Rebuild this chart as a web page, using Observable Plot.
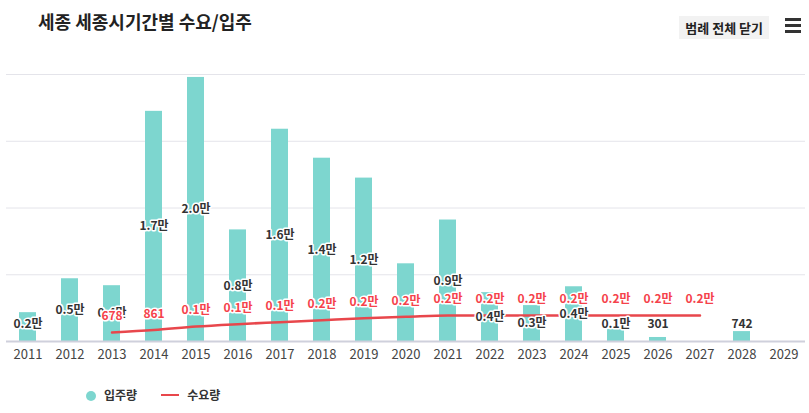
<!DOCTYPE html><html><head><meta charset="utf-8">
<script src="https://cdn.jsdelivr.net/npm/d3@7"></script>
<script src="https://cdn.jsdelivr.net/npm/@observablehq/plot@0.6"></script>
<style>
body{margin:0;width:809px;height:413px;position:relative;background:#fff;font-family:"Noto Sans CJK KR","Noto Sans",sans-serif;overflow:hidden}
#t{position:absolute;left:38px;top:8px;font-size:18px;font-weight:bold;color:#222}
#b{position:absolute;right:40px;top:16px;font-size:13px;font-weight:bold;color:#222;background:#f2f2f2;padding:2px 6px}
#h{position:absolute;right:8px;top:18px;width:16px}
#h div{height:3px;background:#333;margin-bottom:3px}
#c{position:absolute;left:0;top:0}
#lg{position:absolute;left:86px;top:386px;font-size:12px;font-weight:bold;color:#333;display:flex;gap:24px;align-items:center}
</style></head><body>
<div id="c"></div>
<div id="t">세종 세종시기간별 수요/입주</div>
<div id="b">범례 전체 닫기</div>
<div id="h"><div></div><div></div><div></div></div>
<div id="lg"><span><span style="display:inline-block;width:10px;height:10px;border-radius:5px;background:#7dd6cf;margin-right:8px;vertical-align:-1px"></span>입주량</span><span><span style="display:inline-block;width:18px;height:2px;background:#e8474c;margin-right:8px;vertical-align:4px"></span>수요량</span></div>
<script>
const years=["2011","2012","2013","2014","2015","2016","2017","2018","2019","2020","2021","2022","2023","2024","2025","2026","2027","2028","2029"];
const supply=[2160,4700,4180,17240,19780,8360,15900,13730,12240,5820,9100,3660,2690,4100,900,301,0,742,0];
const supplyLabels=["0.2만","0.5만","0.4만","1.7만","2.0만","0.8만","1.6만","1.4만","1.2만","","0.9만","0.4만","0.3만","0.4만","0.1만","301","","742",""];
const demandYears=["2013","2014","2015","2016","2017","2018","2019","2020","2021","2022","2023","2024","2025","2026","2027"];
const demand=[678,861,1120,1300,1450,1600,1750,1850,1950,1950,1950,1950,1950,1950,1950];
const demandLabels=["678","861","0.1만","0.1만","0.1만","0.2만","0.2만","0.2만","0.2만","0.2만","0.2만","0.2만","0.2만","0.2만","0.2만"];
const S=years.map((y,i)=>({y,v:supply[i],l:supplyLabels[i]}));
const D=demandYears.map((y,i)=>({y,v:demand[i],l:demandLabels[i]}));
const txt={fontFamily:"Noto Sans CJK KR",fontSize:12,fontWeight:"bold",stroke:"white",strokeWidth:3};
const p=Plot.plot({width:809,height:370,marginTop:74,marginBottom:29,marginLeft:6,marginRight:4,
x:{domain:years,paddingInner:0.6,paddingOuter:0.3,label:null,tickSize:0,tickPadding:8},
y:{domain:[0,20000],axis:null},
style:{fontFamily:"Noto Sans CJK KR",fontSize:"13px",color:"#444"},
marks:[
Plot.gridY([0,5000,10000,15000,20000],{stroke:"#e4e4ea",strokeOpacity:1}),
Plot.barY(S,{x:"y",y:"v",fill:"#7dd6cf"}),
Plot.ruleY([0],{stroke:"#cfd0dc",strokeWidth:2}),
Plot.line(D,{x:"y",y:"v",stroke:"#e8474c",strokeWidth:2.5,curve:"monotone-x"}),
Plot.text(S,{x:"y",y:d=>Math.max(d.v/2,1300),text:"l",fill:"#333",...txt}),
Plot.text(D,{x:"y",y:"v",dy:-16,text:"l",fill:"#f5424b",...txt})
]});
document.getElementById("c").append(p);
</script></body></html>
